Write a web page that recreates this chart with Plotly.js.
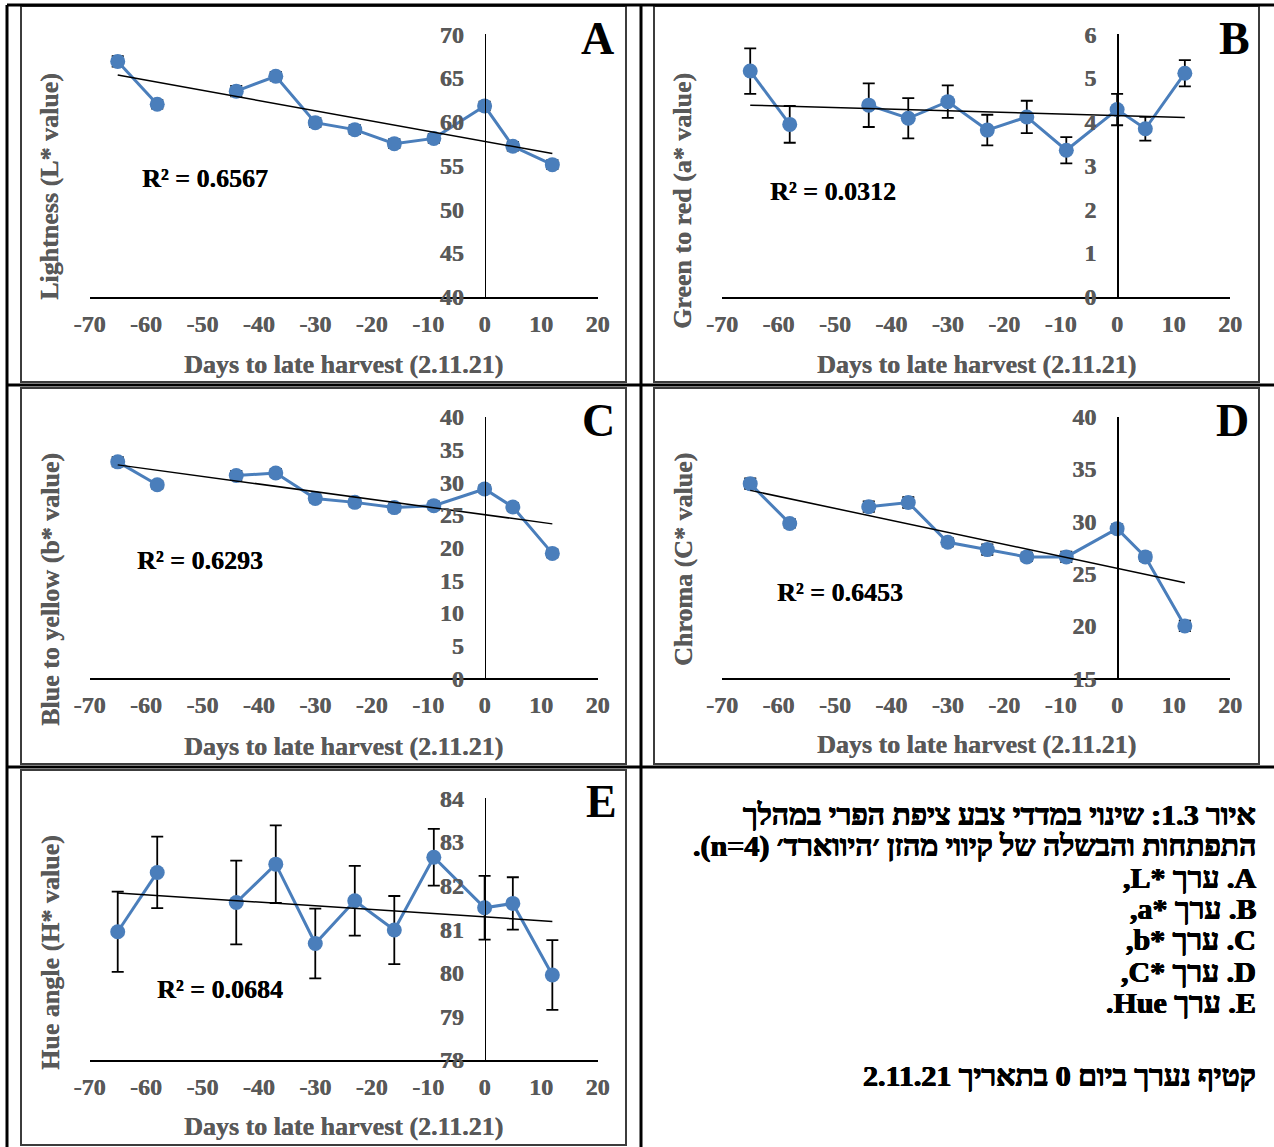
<!DOCTYPE html>
<html>
<head>
<meta charset="utf-8">
<script src="https://cdn.plot.ly/plotly-3.0.1.min.js"></script>
<style>
html,body{margin:0;padding:0;background:#fff;}
#chart{width:1274px;height:1147px;}
</style>
</head>
<body>
<div id="chart"></div>
<script>
// ---------------- DATA ----------------
const days = [-65, -58, -51, -44, -37, -30, -23, -16, -9, 0, 5, 12];

const lightness    = [66.9, 62.0, null, 63.5, 65.2, 59.9, 59.1, 57.5, 58.1, 61.8, 57.2, 55.1];
const lightnessErr = [0.6, 0.5, null, 0.6, 0.5, 0.5, 0.5, 0.5, 0.5, 0.5, 0.5, 0.5];

const greenRed     = [5.16, 3.94, null, 4.38, 4.08, 4.46, 3.81, 4.11, 3.35, 4.28, 3.84, 5.11];
const greenRedErr  = [0.52, 0.42, null, 0.50, 0.46, 0.37, 0.35, 0.37, 0.30, 0.36, 0.27, 0.30];

const blueYellow    = [33.1, 29.6, null, 31.0, 31.4, 27.5, 26.9, 26.1, 26.4, 28.95, 26.2, 19.1];
const blueYellowErr = [0.7, 0.6, null, 0.7, 0.6, 0.6, 0.6, 0.6, 0.6, 0.6, 0.6, 0.6];

const chroma    = [33.6, 29.8, null, 31.4, 31.8, 28.0, 27.3, 26.6, 26.6, 29.3, 26.6, 20.0];
const chromaErr = [0.5, 0.4, null, 0.5, 0.5, 0.4, 0.5, 0.4, 0.5, 0.4, 0.4, 0.5];

const hue    = [80.94, 82.30, null, 81.61, 82.49, 80.67, 81.65, 80.98, 82.65, 81.49, 81.59, 79.95];
const hueErr = [0.92, 0.82, null, 0.96, 0.89, 0.80, 0.80, 0.78, 0.65, 0.73, 0.60, 0.80];

const rSquared = ['0.6567', '0.0312', '0.6293', '0.6453', '0.0684'];
const panelLetters = ['A', 'B', 'C', 'D', 'E'];
const yTitles = ['Lightness (L* value)', 'Green to red (a* value)', 'Blue to yellow (b* value)', 'Chroma (C* value)', 'Hue angle (H* value)'];
const xTitle = 'Days to late harvest (2.11.21)';

const xTickVals = [-70, -60, -50, -40, -30, -20, -10, 0, 10, 20];
const xTickText = ['-70', '-60', '-50', '-40', '-30', '-20', '-10', '0', '10', '20'];

const yTicksA = [40, 45, 50, 55, 60, 65, 70];
const yTicksB = [0, 1, 2, 3, 4, 5, 6];
const yTicksC = [0, 5, 10, 15, 20, 25, 30, 35, 40];
const yTicksD = [15, 20, 25, 30, 35, 40];
const yTicksE = [78, 79, 80, 81, 82, 83, 84];

const captionLines = [
  'איור 1.3: שינוי במדדי צבע ציפת הפרי במהלך',
  'התפתחות והבשלה של קיווי מהזן ׳היווארד׳ (n=4).',
  'A. ערך *L,',
  'B. ערך *a,',
  'C. ערך *b,',
  'D. ערך *C,',
  'E. ערך Hue.',
  'קטיף נערך ביום 0 בתאריך 2.11.21'
];

// ---------------- LAYOUT GEOMETRY (pixels) ----------------
const W = 1274, H = 1147;
const px = v => v / W;
const py = v => 1 - v / H;

const BLUE = '#4A7EBB';
const GRAY = '#595959';
const FONT = '"Liberation Serif", "Times New Roman", Times, serif';

const panels = [
  {vals: lightness,  err: lightnessErr,  ticks: yTicksA, x0: 89.5, x1: 597.5, yt: 34.3,  yb: 296.7,  title:[50, 187],  xt:[343.5, 364], r2:[205, 178],   L:[597, 38]},
  {vals: greenRed,   err: greenRedErr,   ticks: yTicksB, x0: 722,  x1: 1230,  yt: 34.3,  yb: 296.7,  title:[683, 201], xt:[976, 364],   r2:[833, 191],   L:[1234, 38]},
  {vals: blueYellow, err: blueYellowErr, ticks: yTicksC, x0: 89.5, x1: 597.5, yt: 416.7, yb: 678.3,  title:[50, 590],  xt:[343.5, 746], r2:[200, 560.5], L:[598, 420]},
  {vals: chroma,     err: chromaErr,     ticks: yTicksD, x0: 722,  x1: 1230,  yt: 416.7, yb: 678.3,  title:[683, 560], xt:[976, 744],   r2:[840, 592],   L:[1232, 420]},
  {vals: hue,        err: hueErr,        ticks: yTicksE, x0: 89.5, x1: 597.5, yt: 798.3, yb: 1060,   title:[50, 953],  xt:[343.5, 1126],r2:[219.5, 989], L:[601, 801]}
];

function linFit(xs, ys) {
  const pts = xs.map((x, i) => [x, ys[i]]).filter(p => p[1] !== null);
  const n = pts.length;
  const mx = pts.reduce((s, p) => s + p[0], 0) / n;
  const my = pts.reduce((s, p) => s + p[1], 0) / n;
  let sxy = 0, sxx = 0;
  pts.forEach(p => { sxy += (p[0] - mx) * (p[1] - my); sxx += (p[0] - mx) * (p[0] - mx); });
  const b = sxy / sxx, a = my - b * mx;
  const xmin = Math.min(...pts.map(p => p[0])), xmax = Math.max(...pts.map(p => p[0]));
  return {x: [xmin, xmax], y: [a + b * xmin, a + b * xmax]};
}

const data = [];
const layout = {
  width: W, height: H,
  margin: {l: 0, r: 0, t: 0, b: 0},
  paper_bgcolor: '#ffffff',
  plot_bgcolor: 'rgba(0,0,0,0)',
  showlegend: false,
  font: {family: FONT},
  annotations: [],
  shapes: []
};

const graySh = '0.4px 0 0 ' + GRAY;
const blackSh = '0.4px 0 0 #000';
const tickFont = {family: FONT, size: 24, color: GRAY, weight: 'bold', shadow: graySh};
const bold = s => '<b>' + s + '</b>';

panels.forEach((p, i) => {
  const n = i + 1;
  const xa = 'x' + n, ya = 'y' + n;
  data.push({
    type: 'scatter', mode: 'lines+markers', x: days, y: p.vals,
    xaxis: xa, yaxis: ya, connectgaps: false,
    line: {color: BLUE, width: 3},
    marker: {color: BLUE, size: 15},
    error_y: {type: 'data', array: p.err, visible: true, color: '#000000', thickness: 1.8, width: 6},
    hoverinfo: 'x+y'
  });
  const fit = linFit(days, p.vals);
  data.push({
    type: 'scatter', mode: 'lines', x: fit.x, y: fit.y,
    xaxis: xa, yaxis: ya,
    line: {color: '#000000', width: 1.5},
    hoverinfo: 'skip'
  });
  const ymin = p.ticks[0], ymax = p.ticks[p.ticks.length - 1];
  const posX = (p.x0 + (70 / 90) * (p.x1 - p.x0)) / W;
  layout['xaxis' + n] = {
    domain: [px(p.x0), px(p.x1)], range: [-70, 20], anchor: ya,
    showline: true, linecolor: '#000000', linewidth: 2, ticks: '',
    tickmode: 'array', tickvals: xTickVals, ticktext: xTickText.map(bold),
    tickfont: tickFont, showgrid: false, zeroline: false, fixedrange: true,
    ticklabelstandoff: 4
  };
  layout['yaxis' + n] = {
    domain: [py(p.yb), py(p.yt)], range: [ymin, ymax], anchor: 'free', position: posX,
    showline: true, linecolor: '#000000', linewidth: 1.5, ticks: '',
    tickmode: 'array', tickvals: p.ticks, ticktext: p.ticks.map(v => bold(String(v))),
    tickfont: tickFont, showgrid: false, zeroline: false, fixedrange: true,
    ticklabelstandoff: 16
  };
  // axis titles
  layout.annotations.push({
    xref: 'paper', yref: 'paper', x: px(p.title[0]), y: py(p.title[1]),
    text: bold(yTitles[i]), textangle: -90, showarrow: false, xanchor: 'center', yanchor: 'middle',
    font: {family: FONT, size: 26, color: GRAY, weight: 'bold', shadow: graySh}
  });
  layout.annotations.push({
    xref: 'paper', yref: 'paper', x: px(p.xt[0]), y: py(p.xt[1]),
    text: bold(xTitle), showarrow: false, xanchor: 'center', yanchor: 'middle',
    font: {family: FONT, size: 26, color: GRAY, weight: 'bold', shadow: graySh}
  });
  // R squared
  layout.annotations.push({
    xref: 'paper', yref: 'paper', x: px(p.r2[0]), y: py(p.r2[1]),
    text: bold('R² = ' + rSquared[i]), showarrow: false, xanchor: 'center', yanchor: 'middle',
    font: {family: FONT, size: 26, color: '#000000', weight: 'bold', shadow: blackSh}
  });
  // panel letter
  layout.annotations.push({
    xref: 'paper', yref: 'paper', x: px(p.L[0]), y: py(p.L[1]),
    text: bold(panelLetters[i]), showarrow: false, xanchor: 'center', yanchor: 'middle',
    font: {family: FONT, size: 46, color: '#000000', weight: 'bold'}
  });
});

// caption (Hebrew, right-to-left)
const captionY = [814, 846, 877, 908, 939, 971, 1002, 1075];
captionLines.forEach((t, i) => {
  layout.annotations.push({
    xref: 'paper', yref: 'paper', x: px(1258), y: py(captionY[i]),
    text: '\u202B' + t + '\u202C', showarrow: false, xanchor: 'right', yanchor: 'middle', align: 'right',
    font: {family: FONT, size: 30, color: '#000000', weight: 'bold',
           shadow: '0.6px 0 0 #000, -0.6px 0 0 #000, 0 0.4px 0 #000'}
  });
});

// frames of each chart
const frames = [[21, 6, 626, 382], [654, 6, 1259, 382], [21, 388, 626, 764], [654, 388, 1259, 764], [21, 770, 626, 1145]];
frames.forEach(f => {
  layout.shapes.push({type: 'rect', xref: 'paper', yref: 'paper',
    x0: px(f[0]), x1: px(f[2]), y0: py(f[3]), y1: py(f[1]),
    line: {color: '#3c3c3c', width: 2}, fillcolor: 'rgba(0,0,0,0)'});
});
// table lines
const tableLines = [[7, 5, 1274, 5], [7, 5, 7, 1147], [641, 5, 641, 1147], [7, 385, 1274, 385], [7, 767, 1274, 767]];
tableLines.forEach(l => {
  layout.shapes.push({type: 'line', xref: 'paper', yref: 'paper',
    x0: px(l[0]), x1: px(l[2]), y0: py(l[1]), y1: py(l[3]),
    line: {color: '#000000', width: 3}});
});

Plotly.newPlot('chart', data, layout, {displayModeBar: false, staticPlot: true});
</script>
</body>
</html>
